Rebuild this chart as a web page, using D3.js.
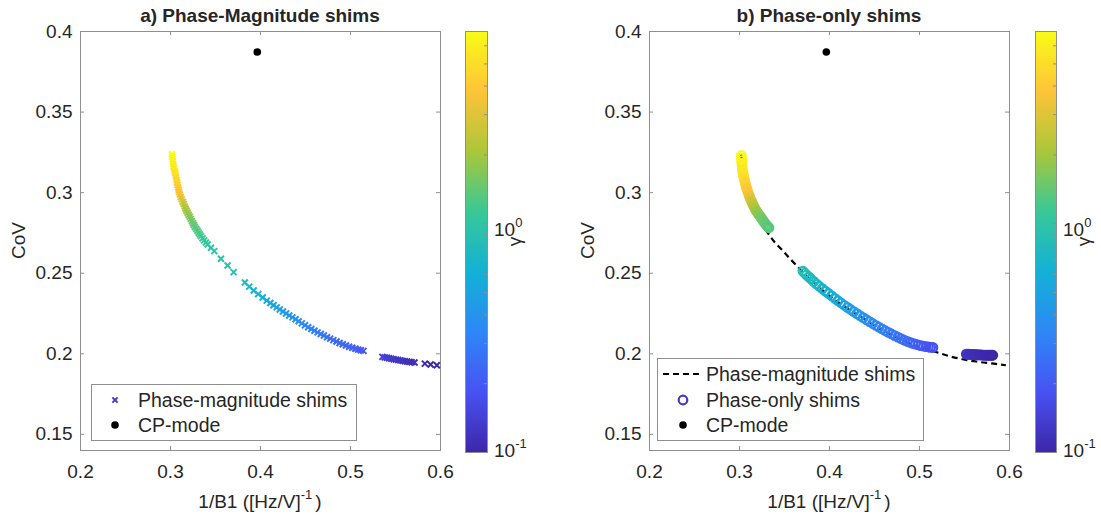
<!DOCTYPE html>
<html>
<head>
<meta charset="utf-8">
<script src="https://cdn.jsdelivr.net/npm/d3@7"></script>
<style>
  body { margin: 0; background: #fff; }
  svg text { font-family: "Liberation Sans", Arial, sans-serif; fill: #262626; }
</style>
</head>
<body>
<svg id="fig" width="1101" height="521"></svg>
<script>
// ---- axis settings ----
const xDomain = [0.2, 0.6];
const yDomain = [0.14, 0.4];
const xTicks = [0.2, 0.3, 0.4, 0.5, 0.6];
const yTicks = [0.15, 0.2, 0.25, 0.3, 0.35, 0.4];
const gammaDomain = [0.1, 6.93];
const gammaMajorTicks = [0.1, 1];
const gammaExponents = ["-1", "0"];
const gammaMinorTicks = [0.2, 0.3, 0.4, 0.5, 0.6, 0.7, 0.8, 0.9, 2, 3, 4, 5, 6];

// ---- CP-mode reference ----
const cpB1inv = [0.397];
const cpCoV = [0.387];

// ---- Phase-magnitude shim front (1/B1, CoV, gamma) ----
const pmB1inv = [
  0.3024,0.3026,0.3029,0.3032,0.3036,0.3040,0.3045,0.3051,0.3058,0.3064,
  0.3069,0.3074,0.3079,0.3084,0.3090,0.3096,0.3101,0.3110,0.3120,0.3131,
  0.3142,0.3153,0.3164,0.3172,0.3183,0.3195,0.3207,0.3219,0.3231,0.3243,
  0.3255,0.3265,0.3277,0.3291,0.3305,0.3318,0.3331,0.3344,0.3362,0.3380,
  0.3399,0.3418,0.3455,0.3492,0.3566,0.3640,0.3707,
  0.3832,0.3880,0.3930,0.3980,0.4030,0.4075,0.4115,0.4150,0.4185,0.4220,
  0.4255,0.4290,0.4325,0.4360,0.4395,0.4430,0.4465,0.4500,0.4535,0.4570,
  0.4605,0.4640,0.4675,0.4710,0.4745,0.4780,0.4815,0.4850,0.4885,0.4920,
  0.4955,0.4990,0.5025,0.5060,0.5090,0.5120,0.5150,
  0.5360,0.5385,0.5410,0.5435,0.5460,0.5485,0.5510,0.5535,0.5560,0.5585,
  0.5610,0.5635,0.5660,0.5685,0.5717,0.5832,0.5896,0.5965
];
const pmCoV = [
  0.3235,0.3220,0.3205,0.3190,0.3175,0.3160,0.3145,0.3130,0.3118,0.3104,
  0.3090,0.3075,0.3060,0.3045,0.3030,0.3015,0.3000,0.2985,0.2970,0.2955,
  0.2940,0.2926,0.2912,0.2899,0.2886,0.2873,0.2860,0.2847,0.2834,0.2821,
  0.2808,0.2796,0.2784,0.2772,0.2760,0.2749,0.2738,0.2727,0.2714,0.2701,
  0.2688,0.2675,0.2655,0.2634,0.2587,0.2545,0.2504,
  0.2439,0.2414,0.2390,0.2367,0.2346,0.2327,0.2312,0.2298,0.2285,0.2272,
  0.2259,0.2247,0.2235,0.2223,0.2211,0.2199,0.2186,0.2174,0.2162,0.2151,
  0.2140,0.2130,0.2120,0.2110,0.2100,0.2091,0.2082,0.2073,0.2064,0.2056,
  0.2048,0.2041,0.2034,0.2028,0.2023,0.2019,0.2015,
  0.1978,0.1975,0.1972,0.1969,0.1966,0.1963,0.1961,0.1958,0.1956,0.1953,
  0.1951,0.1949,0.1947,0.1945,0.1943,0.1936,0.1931,0.1926
];
const pmGamma = [
  7.0,6.7,6.5,6.3,6.1,5.9,5.7,5.5,5.3,5.1,
  4.9,4.7,4.5,4.3,4.1,3.9,3.7,3.45,3.2,2.95,
  2.7,2.5,2.3,2.15,2.0,1.9,1.8,1.71,1.63,1.56,
  1.49,1.43,1.38,1.33,1.29,1.25,1.21,1.18,1.15,1.12,
  1.09,1.06,1.03,1.0,0.96,0.92,0.88,
  0.75,0.71,0.67,0.63,0.60,0.57,0.54,0.52,0.50,0.48,
  0.46,0.44,0.42,0.405,0.39,0.375,0.36,0.345,0.33,0.32,
  0.31,0.30,0.29,0.28,0.27,0.26,0.25,0.24,0.235,0.23,
  0.225,0.22,0.215,0.21,0.205,0.20,0.195,
  0.15,0.145,0.14,0.137,0.134,0.131,0.128,0.125,0.122,0.12,
  0.118,0.116,0.114,0.112,0.11,0.106,0.103,0.1
];

// ---- Phase-only shim front (1/B1, CoV, gamma) ----
const poB1inv = [
  0.3026,0.3027,0.3029,0.3031,0.3034,0.3037,0.3040,0.3044,0.3049,0.3054,
  0.3060,0.3066,0.3072,0.3079,0.3087,0.3095,0.3104,0.3113,0.3122,0.3132,
  0.3142,0.3152,0.3163,0.3174,0.3186,0.3198,0.3210,0.3222,0.3235,0.3248,
  0.3260,0.3272,0.3285,0.3297,0.3309,0.3321,0.3333,
  0.3710,0.3730,0.3750,0.3775,0.3800,0.3830,0.3860,0.3890,0.3925,0.3960,
  0.3995,0.4030,0.4065,0.4100,0.4135,0.4170,0.4205,0.4240,0.4275,0.4310,
  0.4345,0.4380,0.4415,0.4450,0.4485,0.4520,0.4555,0.4590,0.4625,0.4660,
  0.4695,0.4730,0.4765,0.4800,0.4835,0.4870,0.4900,0.4930,0.4960,0.4990,
  0.5020,0.5050,0.5080,0.5105,0.5130,0.5155,
  0.5525,0.5540,0.5555,0.5570,0.5585,0.5600,0.5615,0.5630,0.5645,0.5660,
  0.5675,0.5690,0.5705,0.5720,0.5735,0.5750,0.5765,0.5780,0.5795,0.5810,0.5820
];
const poCoV = [
  0.3228,0.3212,0.3196,0.3180,0.3164,0.3148,0.3133,0.3119,0.3105,0.3091,
  0.3077,0.3063,0.3049,0.3035,0.3021,0.3007,0.2993,0.2979,0.2966,0.2953,
  0.2940,0.2927,0.2914,0.2902,0.2890,0.2879,0.2869,0.2860,0.2850,0.2840,
  0.2830,0.2820,0.2810,0.2801,0.2793,0.2786,0.2779,
  0.2510,0.2498,0.2487,0.2474,0.2461,0.2446,0.2431,0.2417,0.2401,0.2386,
  0.2371,0.2356,0.2341,0.2326,0.2312,0.2298,0.2285,0.2272,0.2259,0.2246,
  0.2233,0.2221,0.2209,0.2197,0.2185,0.2173,0.2162,0.2151,0.2140,0.2130,
  0.2120,0.2110,0.2100,0.2091,0.2082,0.2074,0.2068,0.2062,0.2057,0.2052,
  0.2048,0.2044,0.2041,0.2039,0.2037,0.2036,
  0.1995,0.1994,0.1994,0.1993,0.1993,0.1992,0.1992,0.1991,0.1991,0.1990,
  0.1990,0.1990,0.1989,0.1989,0.1989,0.1988,0.1988,0.1988,0.1988,0.1988,0.1988
];
const poGamma = [
  7.0,6.75,6.5,6.3,6.1,5.9,5.7,5.5,5.3,5.1,
  4.9,4.7,4.5,4.3,4.1,3.9,3.7,3.45,3.2,2.95,
  2.7,2.5,2.3,2.15,2.0,1.9,1.8,1.72,1.65,1.59,
  1.54,1.49,1.45,1.41,1.38,1.35,1.32,
  0.85,0.83,0.81,0.79,0.77,0.75,0.73,0.70,0.67,0.645,
  0.62,0.60,0.575,0.55,0.53,0.51,0.49,0.47,0.45,0.43,
  0.415,0.40,0.385,0.37,0.355,0.34,0.33,0.32,0.31,0.30,
  0.29,0.28,0.27,0.26,0.25,0.24,0.235,0.23,0.22,0.21,
  0.205,0.20,0.19,0.185,0.18,0.175,
  0.125,0.123,0.121,0.119,0.117,0.115,0.113,0.112,0.111,0.110,
  0.109,0.108,0.107,0.106,0.105,0.104,0.103,0.102,0.101,0.100,0.100
];

// ---- legend entries ----
const legendA = ["Phase-magnitude shims", "CP-mode"];
const legendB = ["Phase-magnitude shims", "Phase-only shims", "CP-mode"];

// parula colormap anchor colours
const parula = ["#3e26a8","#4852f4","#2e87f7","#12b1d6","#37c897","#abc739","#fec338","#f9fb15"];
const parulaInterp = d3.piecewise(d3.interpolateRgb, parula);
const gammaColor = d3.scaleSequentialLog(parulaInterp).domain(gammaDomain);

const AXIS_GRAY = "#8f8f8f";
const TOP = 31, BOTTOM = 450, CB_TOP = 31, CB_BOTTOM = 452;

const svg = d3.select("#fig");

const panels = [
  { id: "a", title: "a) Phase-Magnitude shims", left: 80, right: 440, cbL: 465, cbR: 487 },
  { id: "b", title: "b) Phase-only shims", left: 649, right: 1009, cbL: 1035, cbR: 1056 }
];

// vertical gradient used by both colour bars
const defs = svg.append("defs");
const grad = defs.append("linearGradient").attr("id", "parulaGrad")
  .attr("x1", 0).attr("y1", 1).attr("x2", 0).attr("y2", 0);
d3.range(0, 1.0001, 0.02).forEach(t => {
  grad.append("stop").attr("offset", t).attr("stop-color", parulaInterp(t));
});

function styleAxis(g) {
  g.select(".domain").remove();
  g.selectAll(".tick line").attr("stroke", AXIS_GRAY);
  g.selectAll(".tick text").attr("fill", "#262626").style("font-size", "19px")
    .attr("font-family", "Liberation Sans, Arial, sans-serif");
}

panels.forEach(p => {
  const x = d3.scaleLinear().domain(xDomain).range([p.left, p.right]);
  const y = d3.scaleLinear().domain(yDomain).range([BOTTOM, TOP]);
  const g = svg.append("g").attr("class", "panel-" + p.id);

  // axes with inward ticks on all four sides
  g.append("g").attr("transform", `translate(0,${BOTTOM})`)
    .call(d3.axisBottom(x).tickValues(xTicks).tickFormat(d3.format("")).tickSize(-4).tickPadding(15))
    .call(styleAxis);
  g.append("g").attr("transform", `translate(0,${TOP})`)
    .call(d3.axisTop(x).tickValues(xTicks).tickFormat(() => "").tickSize(-4))
    .call(styleAxis);
  g.append("g").attr("transform", `translate(${p.left},0)`)
    .call(d3.axisLeft(y).tickValues(yTicks).tickFormat(d3.format("")).tickSize(-4).tickPadding(7.5))
    .call(styleAxis);
  g.append("g").attr("transform", `translate(${p.right},0)`)
    .call(d3.axisRight(y).tickValues(yTicks).tickFormat(() => "").tickSize(-4))
    .call(styleAxis);

  g.append("rect")
    .attr("x", p.left + 0.5).attr("y", TOP + 0.5)
    .attr("width", p.right - p.left).attr("height", BOTTOM - TOP)
    .attr("fill", "none").attr("stroke", AXIS_GRAY);

  // title and axis labels
  g.append("text").attr("x", (p.left + p.right) / 2).attr("y", 22)
    .attr("text-anchor", "middle").style("font-size", "19px").style("font-weight", "bold")
    .text(p.title);
  g.append("text").attr("transform", `translate(${p.left - 55},${(TOP + BOTTOM) / 2}) rotate(-90)`)
    .attr("text-anchor", "middle").style("font-size", "19px").text("CoV");
  const xl = g.append("text").attr("x", (p.left + p.right) / 2).attr("y", 508)
    .attr("text-anchor", "middle").style("font-size", "19px");
  xl.append("tspan").text("1/B1 ([Hz/V]");
  xl.append("tspan").attr("dy", -9).style("font-size", "13px").text("-1");
  xl.append("tspan").attr("dy", 9).attr("dx", 3).text(")");

  // data marks
  const pmIdx = d3.range(pmB1inv.length);
  const poIdx = d3.range(poB1inv.length);
  const s = 3;
  if (p.id === "a") {
    g.append("g").selectAll("path").data(pmIdx).join("path")
      .attr("transform", i => `translate(${x(pmB1inv[i])},${y(pmCoV[i])})`)
      .attr("d", `M${-s},${-s}L${s},${s}M${-s},${s}L${s},${-s}`)
      .attr("stroke", i => gammaColor(pmGamma[i]))
      .attr("stroke-width", 2).attr("fill", "none");
  } else {
    const line = d3.line().x(i => x(pmB1inv[i])).y(i => y(pmCoV[i]));
    g.append("path").datum(pmIdx).attr("d", line)
      .attr("fill", "none").attr("stroke", "#000").attr("stroke-width", 2.2)
      .attr("stroke-dasharray", "6,4");
    g.append("g").selectAll("circle").data(poIdx).join("circle")
      .attr("cx", i => x(poB1inv[i])).attr("cy", i => y(poCoV[i])).attr("r", 4.3)
      .attr("fill", "none").attr("stroke", i => gammaColor(poGamma[i]))
      .attr("stroke-width", 2.2);
  }
  g.append("g").selectAll("circle").data(cpB1inv).join("circle")
    .attr("cx", (d) => x(d)).attr("cy", (d, i) => y(cpCoV[i])).attr("r", 3.8)
    .attr("fill", "#000");

  // legend
  if (p.id === "a") {
    const lg = g.append("g");
    lg.append("rect").attr("x", 91.5).attr("y", 384.5).attr("width", 265).attr("height", 56)
      .attr("fill", "#fff").attr("stroke", AXIS_GRAY);
    const rows = [400, 425];
    lg.append("path").attr("transform", `translate(115,${rows[0]})`)
      .attr("d", "M-2.6,-2.6L2.6,2.6M-2.6,2.6L2.6,-2.6")
      .attr("stroke", gammaColor(0.13)).attr("stroke-width", 2);
    lg.append("circle").attr("cx", 115).attr("cy", rows[1]).attr("r", 3.8).attr("fill", "#000");
    legendA.forEach((t, k) => {
      lg.append("text").attr("x", 138).attr("y", rows[k] + 7).style("font-size", "19.5px").text(t);
    });
  } else {
    const lg = g.append("g");
    lg.append("rect").attr("x", 657.5).attr("y", 358.5).attr("width", 266).attr("height", 82)
      .attr("fill", "#fff").attr("stroke", AXIS_GRAY);
    const rows = [374, 400, 425];
    lg.append("line").attr("x1", 663).attr("x2", 702).attr("y1", rows[0]).attr("y2", rows[0])
      .attr("stroke", "#000").attr("stroke-width", 2.2).attr("stroke-dasharray", "6,4");
    lg.append("circle").attr("cx", 683).attr("cy", rows[1]).attr("r", 4.3)
      .attr("fill", "none").attr("stroke", gammaColor(0.13)).attr("stroke-width", 2.2);
    lg.append("circle").attr("cx", 683).attr("cy", rows[2]).attr("r", 3.8).attr("fill", "#000");
    legendB.forEach((t, k) => {
      lg.append("text").attr("x", 706).attr("y", rows[k] + 7).style("font-size", "19.5px").text(t);
    });
  }

  // colour bar (log-scaled gamma)
  const cb = d3.scaleLog().domain(gammaDomain).range([CB_BOTTOM, CB_TOP]);
  g.append("rect").attr("x", p.cbL + 0.5).attr("y", CB_TOP + 0.5)
    .attr("width", p.cbR - p.cbL).attr("height", CB_BOTTOM - CB_TOP)
    .attr("fill", "url(#parulaGrad)").attr("stroke", AXIS_GRAY);
  g.append("g").attr("transform", `translate(${p.cbR},0)`)
    .call(d3.axisRight(cb).tickValues(gammaMinorTicks.concat(gammaMajorTicks)).tickFormat(() => "").tickSize(-3))
    .call(styleAxis);
  gammaMajorTicks.forEach((v, k) => {
    const ty = Math.min(cb(v) + 13, CB_BOTTOM + 5);
    const t = g.append("text").attr("x", p.cbR + 7).attr("y", ty).style("font-size", "19px");
    t.append("tspan").text("10");
    t.append("tspan").attr("dy", -9).style("font-size", "13px").text(gammaExponents[k]);
  });
  g.append("text").attr("transform", `translate(${p.cbR + 34},${(CB_TOP + CB_BOTTOM) / 2}) rotate(-90)`)
    .attr("text-anchor", "middle").style("font-size", "19px").text("γ");
});
</script>
</body>
</html>
